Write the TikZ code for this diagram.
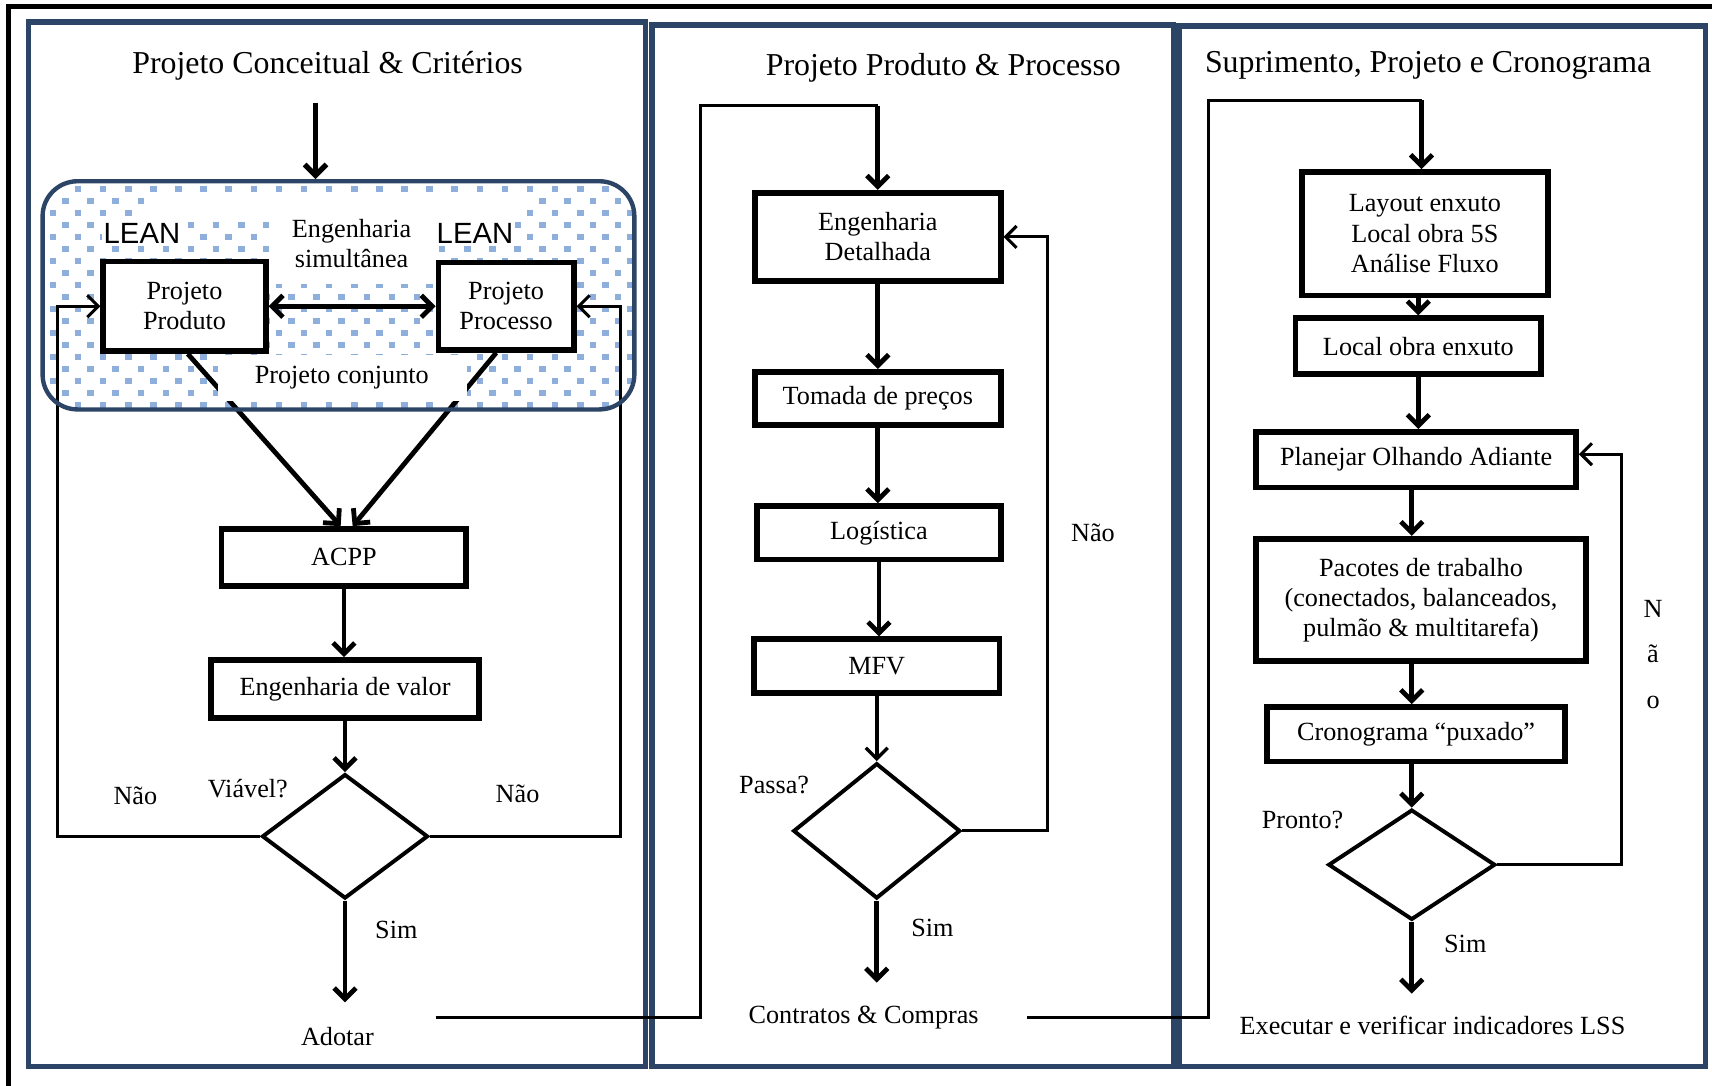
\documentclass[tikz,border=0pt]{standalone}
\usepackage{fontspec}
\setmainfont{Liberation Serif}
\newfontfamily\leanfont{Liberation Sans}
\usetikzlibrary{arrows.meta,shapes.geometric,calc}
\definecolor{pblue}{RGB}{44,68,102}
\definecolor{dotc}{RGB}{142,174,220}
\tikzset{
  box/.style={draw, line width=2.6pt, fill=white, align=center, inner sep=0pt, font=\fontsize{12}{13.8}\selectfont},
  dec/.style={draw, diamond, line width=1.8pt, inner sep=0pt, fill=white},
  barb/.tip={Straight Barb[length=5pt,width=10pt]},
  arr/.style={line width=2.2pt, -barb},
  fb/.style={line width=1.4pt},
  fba/.style={line width=1.4pt, -barb},
  lbl/.style={font=\fontsize{12}{13.8}\selectfont, inner sep=1pt, align=center},
  ttl/.style={font=\fontsize{14.6}{16}\selectfont, inner sep=1pt},
  panel/.style={draw=pblue, line width=2.5pt},
  lean/.style={font=\leanfont\fontsize{13.4}{14}\selectfont, fill=white, inner sep=1pt},
  whitebg/.style={fill=white, draw=none},
}
\begin{document}
\begin{tikzpicture}[x=0.5pt,y=-0.5pt]
\useasboundingbox (0,0) rectangle (1568,994);
\fill[white] (0,0) rectangle (1568,994);
% outer frame
\draw[line width=2.3pt] (8,1000) -- (8,6) -- (1575,6);
% panels
\draw[panel] (26,20) rectangle (591,977);
\draw[panel] (597,23) rectangle (1075,977);
\draw[panel] (1080,24) rectangle (1562,977);
% titles
\node[ttl] (t1) at (300,60) {Projeto Conceitual \& Critérios};
\node[ttl] (t2) at (864,62) {Projeto Produto \& Processo};
\node[ttl] (t3) at (1308,60) {Suprimento, Projeto e Cronograma};

% dotted region
\begin{scope}
  \clip[rounded corners=16pt] (39,166) rectangle (581,375);
  \foreach \k in {0,...,20}{
    \pgfmathsetmacro{\xo}{34-mod(\k,2)*11.5}
    \foreach \j in {0,...,24}{
      \fill[dotc] ({\xo+23*\j},{159+11*\k}) rectangle ++(6,6);
    }
  }
\end{scope}
\fill[whitebg] (137,176) rectangle (477,201);
\fill[whitebg] (246,176) rectangle (397,260);

% panel 1 nodes
\node[box, minimum width=74.5pt, minimum height=41pt] (pprod) at (169,280.5) {Projeto\\Produto};
\node[box, minimum width=62pt, minimum height=40pt] (pproc) at (463.5,280.5) {Projeto\\Processo};
\node[lean] (lean1) at (130,213.5) {LEAN};
\node[lean] (lean2) at (435,213.5) {LEAN};
\node[lbl] (eng) at (322,223) {Engenharia\\simultânea};
\node[box, minimum width=112pt, minimum height=26pt] (acpp) at (315,510.5) {ACPP};
\node[box, minimum width=122.5pt, minimum height=26.5pt] (ev) at (316,631) {Engenharia de valor};
\node[dec, minimum width=76pt, minimum height=57pt] (d1) at (316,766) {};
\node[lbl] (viavel) at (227,722) {Viável?};
\node[lbl] (nao1) at (124,729) {Não};
\node[lbl] (nao2) at (474,727) {Não};
\node[lbl] (sim1) at (363,852) {Sim};
\node[lbl] (adotar) at (309,949) {Adotar};
\coordinate (e1) at (316,918);
\coordinate (s1) at (289,94);

% panel 2 nodes
\node[box, minimum width=112.5pt, minimum height=40.5pt] (ed) at (804,217) {Engenharia\\Detalhada};
\node[box, minimum width=112.5pt, minimum height=24.5pt] (tp) at (804,365) {Tomada de preços};
\node[box, minimum width=111.5pt, minimum height=24.5pt] (log) at (805,488) {Logística};
\node[box, minimum width=112.5pt, minimum height=24.5pt] (mfv) at (803,610) {MFV};
\node[dec, minimum width=76.5pt, minimum height=62pt] (d2) at (803,761) {};
\node[lbl] (passa) at (709,719) {Passa?};
\node[lbl] (nao3) at (1001,488) {Não};
\node[lbl] (sim2) at (854,850) {Sim};
\node[lbl] (contr) at (791,932) {Contratos \& Compras};
\coordinate (e2) at (803,900);
\coordinate (s2) at (399,932);
\coordinate (k2) at (804,97);

% panel 3 nodes
\node[box, minimum width=112.5pt, minimum height=56.5pt] (lay) at (1305,214) {Layout enxuto\\Local obra 5S\\Análise Fluxo};
\node[box, minimum width=112.5pt, minimum height=25.5pt] (loc) at (1299,317) {Local obra enxuto};
\node[box, minimum width=146.5pt, minimum height=25.5pt] (plan) at (1297,421) {Planejar Olhando Adiante};
\node[box, minimum width=151pt, minimum height=56pt] (pac) at (1301.5,549.5) {Pacotes de trabalho\\(conectados, balanceados,\\pulmão \& multitarefa)};
\node[box, minimum width=136.5pt, minimum height=25pt] (cron) at (1297,672.5) {Cronograma “puxado”};
\node[dec, minimum width=76.5pt, minimum height=50.5pt] (d3) at (1293,792) {};
\node[lbl] (pronto) at (1193,751) {Pronto?};
\node[lbl] (sim3) at (1342,865) {Sim};
\node[lbl] (nN) at (1514,558) {N};
\node[lbl] (nA) at (1514,599) {ã};
\node[lbl] (nO) at (1514,643) {o};
\node[lbl] (exec) at (1312,939) {Executar e verificar indicadores LSS};
\coordinate (e3) at (1293,910);
\coordinate (s3) at (941,932);
\coordinate (k3) at (1302,92);

% panel 1 connectors
\draw[line width=2.2pt, barb-barb] (pprod.east) -- (pproc.west);
\draw[fba] (d1.west) -- (53,766) |- (pprod.west);
\draw[fba] (d1.east) -- (568,766) |- (pproc.east);
\draw[arr] ($(pprod.south)+(3,0)$) -- ($(acpp.north)+(-3,0)$);
\draw[arr] ($(pproc.south)+(-9,0)$) -- ($(acpp.north)+(8,0)$);
\draw[arr] (acpp.south) -- (acpp.south |- ev.north);
\draw[arr] (ev.south) -- (d1.north);
\draw[arr] (d1.south) -- (e1);
% white band over joint-design lines
\fill[whitebg] (200,325) rectangle (428,367);
\node[lbl] (conj) at (313,346) {Projeto conjunto};
% joint design rounded frame
\node[draw=pblue, line width=2pt, rounded corners=16pt, minimum width=271pt, minimum height=104.5pt, inner sep=0pt] (joint) at (310,270.5) {};
\draw[arr, line width=2.4pt] (s1) -- (s1 |- joint.north);

% panel 2 connectors
\draw[fb] (s2) -- (642,932) |- (k2);
\draw[arr] (k2) -- (k2 |- ed.north);
\draw[arr] (ed.south) -- (ed.south |- tp.north);
\draw[arr] (tp.south) -- (tp.south |- log.north);
\draw[arr] (log.south) -- (log.south |- mfv.north);
\draw[line width=1.6pt, -barb] (mfv.south) -- (mfv.south |- d2.north);
\draw[fba] (d2.east) -- (959,761) |- (ed.east);
\draw[arr] (d2.south) -- (e2);

% panel 3 connectors
\draw[fb] (s3) -- (1107,932) |- (k3);
\draw[arr] (k3) -- (k3 |- lay.north);
\draw[arr] (loc.north |- lay.south) -- (loc.north);
\draw[arr] (loc.south) -- (loc.south |- plan.north);
\draw[arr] (d3.north |- plan.south) -- (d3.north |- pac.north);
\draw[arr] (d3.north |- pac.south) -- (d3.north |- cron.north);
\draw[arr] (d3.north |- cron.south) -- (d3.north);
\draw[fba] (d3.east) -- (1485,792) |- ($(plan.east)+(0,-5)$);
\draw[arr] (d3.south) -- (e3);
\end{tikzpicture}
\end{document}
